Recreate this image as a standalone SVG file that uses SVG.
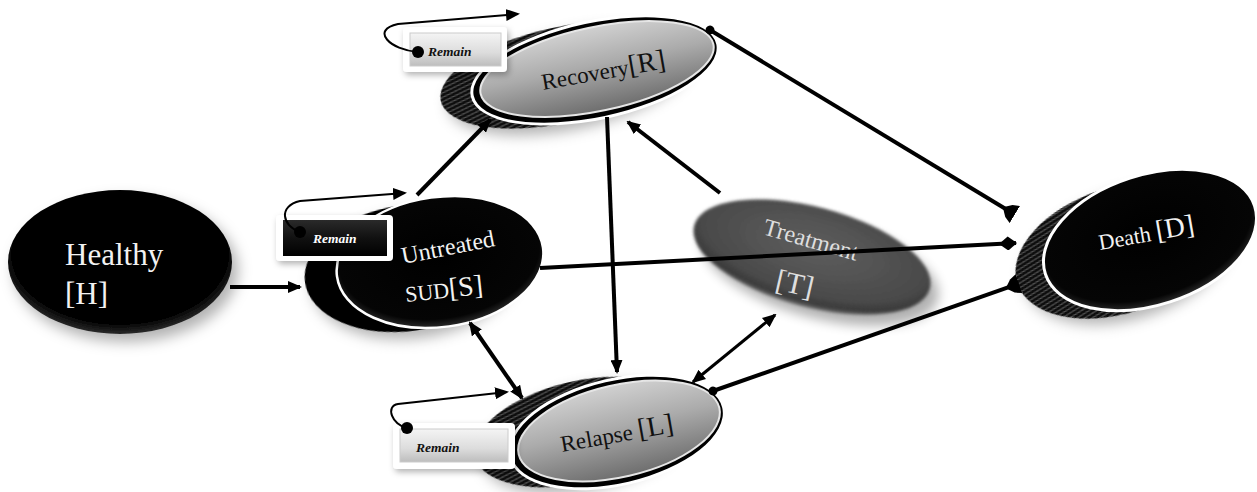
<svg xmlns="http://www.w3.org/2000/svg" width="1257" height="492" viewBox="0 0 1257 492">
<style>
.lbl{font-family:"Liberation Serif","Times New Roman",serif;}
.w{fill:#f2f2f2;}
.k{fill:#111;}
.rem{font-family:"Liberation Serif","Times New Roman",serif;font-weight:bold;font-style:italic;font-size:13.5px;}
.con{stroke:#000;stroke-width:4;fill:none;}
.thin{stroke:#000;stroke-width:3;fill:none;}
.loop{stroke:#000;stroke-width:2;fill:none;}
</style>
<defs>
<filter id="shadow" x="-30%" y="-30%" width="160%" height="170%">
<feDropShadow dx="6" dy="8" stdDeviation="7" flood-color="#000" flood-opacity="0.3"/>
</filter>
<filter id="boxshadow" x="-20%" y="-30%" width="140%" height="170%">
<feDropShadow dx="2" dy="3" stdDeviation="3" flood-color="#000" flood-opacity="0.3"/>
</filter>
<filter id="blur" x="-30%" y="-40%" width="160%" height="180%">
<feGaussianBlur stdDeviation="1.8"/>
</filter>
<filter id="softshadow" x="-30%" y="-40%" width="160%" height="180%">
<feGaussianBlur stdDeviation="6"/>
</filter>
<pattern id="stripes" width="4" height="4" patternUnits="userSpaceOnUse" patternTransform="rotate(-14)">
<rect width="4" height="4" fill="#0c0c0c"/>
<rect width="4" height="1" fill="#5a5a5a"/>
</pattern>
<linearGradient id="grayGrad" x1="0" y1="0" x2="0" y2="1">
<stop offset="0" stop-color="#d0d0d0"/>
<stop offset="0.45" stop-color="#ababab"/>
<stop offset="1" stop-color="#6e6e6e"/>
</linearGradient>
<radialGradient id="blackGrad" cx="0.5" cy="0.45" r="0.55">
<stop offset="0" stop-color="#000"/>
<stop offset="0.88" stop-color="#050505"/>
<stop offset="1" stop-color="#2a2a2a"/>
</radialGradient>
<radialGradient id="treatGrad" cx="0.5" cy="0.4" r="0.6">
<stop offset="0" stop-color="#5e5e5e"/>
<stop offset="0.78" stop-color="#4a4a4a"/>
<stop offset="0.92" stop-color="#3a3a3a"/>
<stop offset="1" stop-color="#6a6a6a"/>
</radialGradient>
<linearGradient id="btnGrad" x1="0" y1="0" x2="0" y2="1">
<stop offset="0" stop-color="#f4f4f4"/>
<stop offset="0.6" stop-color="#dcdcdc"/>
<stop offset="1" stop-color="#bdbdbd"/>
</linearGradient>
<linearGradient id="btnDark" x1="0" y1="0" x2="0" y2="1">
<stop offset="0" stop-color="#2a2a2a"/>
<stop offset="0.5" stop-color="#111"/>
<stop offset="1" stop-color="#000"/>
</linearGradient>
<marker id="arrow" viewBox="0 0 14 12" markerWidth="14" markerHeight="12" refX="12" refY="6" orient="auto-start-reverse" markerUnits="userSpaceOnUse">
<path d="M0,0 L14,6 L0,12 Z" fill="#000"/>
</marker>
<marker id="arrowSmall" viewBox="0 0 14 12" markerWidth="14" markerHeight="12" refX="12" refY="6" orient="auto" markerUnits="userSpaceOnUse">
<path d="M0,0 L14,6 L0,12 Z" fill="#000"/>
</marker>
<marker id="wedge" viewBox="0 0 14 20" markerWidth="14" markerHeight="20" refX="13" refY="10" orient="auto" markerUnits="userSpaceOnUse">
<path d="M0,10 L7,3 L14,0 L14,20 L7,17 Z" fill="#000"/>
</marker>
<marker id="diamond" viewBox="0 0 18 14" markerWidth="18" markerHeight="14" refX="17" refY="7" orient="auto" markerUnits="userSpaceOnUse">
<path d="M0,7 L9,0 L18,7 L9,14 Z" fill="#000"/>
</marker>
<marker id="dot" viewBox="0 0 10 10" markerWidth="10" markerHeight="10" refX="5" refY="5" orient="auto" markerUnits="userSpaceOnUse">
<circle cx="5" cy="5" r="4.5" fill="#000"/>
</marker>
</defs>

<rect width="1257" height="492" fill="#fff"/>

<g id="node-H">
<ellipse cx="120" cy="262" rx="112" ry="72" fill="url(#blackGrad)" filter="url(#shadow)"/>
<text class="lbl w" x="65" y="265" font-size="31">Healthy</text>
<text class="lbl w" x="65" y="304" font-size="31">[H]</text>
</g>

<g id="node-S">
<ellipse cx="408" cy="268" rx="104" ry="63" transform="rotate(-8 408 268)" fill="#000" filter="url(#shadow)"/>
<ellipse cx="440" cy="262" rx="104" ry="65" transform="rotate(-8 440 262)" fill="url(#blackGrad)" stroke="#fff" stroke-width="2.5"/>
<text class="lbl w" x="403" y="264" font-size="24" transform="rotate(-11 403 264)">Untreated</text>
<text class="lbl w" x="406" y="302" transform="rotate(-6 406 302)"><tspan font-size="22">SUD</tspan><tspan font-size="28">[S]</tspan></text>
</g>

<g id="node-R">
<ellipse cx="562" cy="75" rx="124" ry="48" transform="rotate(-12 562 75)" fill="url(#stripes)" filter="url(#shadow)"/>
<ellipse cx="595" cy="70" rx="127" ry="50" transform="rotate(-12 595 70)" fill="#fff"/>
<ellipse cx="595" cy="70" rx="124" ry="47" transform="rotate(-12 595 70)" fill="#000"/>
<ellipse cx="597" cy="69" rx="119" ry="42" transform="rotate(-12 597 69)" fill="url(#grayGrad)" stroke="#e6e6e6" stroke-width="2"/>
<text class="lbl k" x="543" y="90" transform="rotate(-10 543 90)"><tspan font-size="23">Recovery</tspan><tspan font-size="28">[R]</tspan></text>
</g>

<g id="node-L">
<ellipse cx="580" cy="432" rx="108" ry="51" transform="rotate(-13 580 432)" fill="url(#stripes)" filter="url(#shadow)"/>
<ellipse cx="617" cy="432" rx="111" ry="54" transform="rotate(-13 617 432)" fill="#fff"/>
<ellipse cx="617" cy="432" rx="108" ry="51" transform="rotate(-13 617 432)" fill="#000"/>
<ellipse cx="619" cy="431" rx="103" ry="46" transform="rotate(-13 619 431)" fill="url(#grayGrad)" stroke="#e6e6e6" stroke-width="2"/>
<text class="lbl k" x="562" y="452" transform="rotate(-10 562 452)"><tspan font-size="23">Relapse </tspan><tspan font-size="28">[L]</tspan></text>
</g>

<g id="node-T">
<ellipse cx="820" cy="268" rx="122" ry="50" transform="rotate(15 820 268)" fill="#000" opacity="0.3" filter="url(#softshadow)"/>
<ellipse cx="812" cy="257" rx="122" ry="50" transform="rotate(15 812 257)" fill="url(#treatGrad)" filter="url(#blur)"/>
<text class="lbl" fill="#dedede" x="762" y="234" font-size="24" transform="rotate(16 762 234)">Treatment</text>
<text class="lbl" fill="#dedede" x="774" y="289" font-size="30" transform="rotate(13 774 289)">[T]</text>
</g>

<g id="node-D">
<ellipse cx="1120" cy="250" rx="108" ry="63" transform="rotate(-18 1120 250)" fill="url(#stripes)" filter="url(#shadow)"/>
<ellipse cx="1150" cy="240" rx="110" ry="65" transform="rotate(-18 1150 240)" fill="url(#blackGrad)" stroke="#fff" stroke-width="3"/>
<text class="lbl w" x="1100" y="250" transform="rotate(-10 1100 250)"><tspan font-size="22">Death </tspan><tspan font-size="28">[D]</tspan></text>
</g>

<g id="remain-R">
<rect x="403" y="27" width="104" height="45" rx="4" fill="#fff" filter="url(#boxshadow)"/>
<rect x="410" y="33" width="91" height="33" fill="url(#btnGrad)" stroke="#ccc" stroke-width="1"/>
<text class="rem k" x="428" y="56">Remain</text>
</g>
<g id="remain-S">
<rect x="276" y="215" width="117" height="46" rx="4" fill="#fff" filter="url(#boxshadow)"/>
<rect x="283" y="220" width="104" height="36" fill="url(#btnDark)"/>
<text class="rem" fill="#fff" x="313" y="243">Remain</text>
</g>
<g id="remain-L">
<rect x="393" y="423" width="122" height="46" rx="4" fill="#fff" filter="url(#boxshadow)"/>
<rect x="400" y="429" width="108" height="33" fill="url(#btnGrad)" stroke="#ccc" stroke-width="1"/>
<text class="rem k" x="416" y="452">Remain</text>
</g>

<g id="connectors">
<path class="loop" d="M418,52 C390,50 370,30 398,24 L518,14" marker-end="url(#arrowSmall)"/>
<circle cx="418" cy="52" r="6" fill="#000"/>
<path class="loop" d="M300,232 C282,226 278,206 300,201 L405,193" marker-end="url(#arrowSmall)"/>
<circle cx="300" cy="232" r="6" fill="#000"/>
<path class="loop" d="M407,428 C392,425 385,406 398,404 L507,392" marker-end="url(#arrowSmall)"/>
<circle cx="407" cy="428" r="6" fill="#000"/>

<line class="con" x1="230" y1="287" x2="300" y2="287" marker-end="url(#arrow)"/>
<line class="con" x1="417" y1="195" x2="490" y2="120" marker-end="url(#arrow)"/>
<line class="con" x1="607" y1="117" x2="617" y2="372" marker-end="url(#arrow)"/>
<line class="con" x1="720" y1="193" x2="628" y2="122" marker-end="url(#arrow)"/>
<line class="con" x1="470" y1="323" x2="522" y2="398" marker-start="url(#arrow)" marker-end="url(#arrow)"/>
<line class="thin" x1="775" y1="315" x2="693" y2="382" marker-start="url(#arrow)" marker-end="url(#arrow)"/>
<line class="con" x1="710" y1="30" x2="1014" y2="214" marker-start="url(#dot)" marker-end="url(#wedge)"/>
<line class="con" x1="540" y1="268" x2="1016" y2="243" marker-end="url(#diamond)"/>
<line class="con" x1="713" y1="391" x2="1018" y2="284" marker-start="url(#dot)" marker-end="url(#wedge)"/>
</g>
</svg>
